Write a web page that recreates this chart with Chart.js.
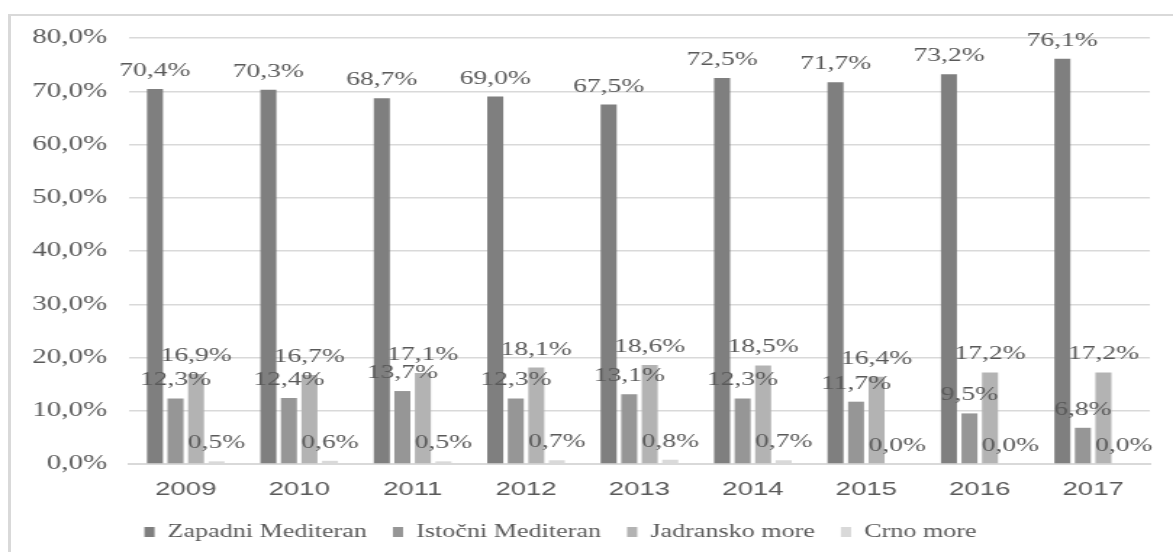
<!DOCTYPE html>
<html>
<head>
<meta charset="utf-8">
<script src="https://cdn.jsdelivr.net/npm/chart.js@4.4.1/dist/chart.umd.min.js"></script>
<style>
  html, body { margin: 0; padding: 0; background: #fff; overflow: hidden; }
  #page { position: absolute; left: 0; top: 0; width: 1173px; height: 552px; }
  #frame {
    position: absolute; left: 8px; top: 14px; width: 1170px; height: 545px;
    border-top: 2px solid #d9d9d9; border-left: 3px solid #d9d9d9;
  }
  /* the reference picture is stretched sideways, so the chart is drawn narrow and widened */
  #wrap {
    position: absolute; left: 0; top: 0; width: 809px; height: 552px;
    transform: scaleX(1.45); transform-origin: 0 0;
  }
</style>
</head>
<body>
<div id="page">
  <div id="frame"></div>
  <div id="wrap"><canvas id="chart"></canvas></div>
</div>
<script>
const years = ["2009", "2010", "2011", "2012", "2013", "2014", "2015", "2016", "2017"];
const zapadni = [70.4, 70.3, 68.7, 69.0, 67.5, 72.5, 71.7, 73.2, 76.1];
const istocni = [12.3, 12.4, 13.7, 12.3, 13.1, 12.3, 11.7, 9.5, 6.8];
const jadransko = [16.9, 16.7, 17.1, 18.1, 18.6, 18.5, 16.4, 17.2, 17.2];
const crno = [0.5, 0.6, 0.5, 0.7, 0.8, 0.7, 0.0, 0.0, 0.0];

const textColor = "#595959";
const serif = "'Liberation Serif', 'Times New Roman', serif";

function pct(v) {
    return v.toFixed(1).replace(".", ",") + "%";
}

// value labels above each bar (no datalabels plugin available)
const barLabels = {
    id: "barLabels",
    afterDatasetsDraw(chart) {
        const ctx = chart.ctx;
        ctx.save();
        ctx.font = "19px " + serif;
        ctx.fillStyle = textColor;
        ctx.textAlign = "center";
        ctx.textBaseline = "middle";
        chart.data.datasets.forEach((ds, i) => {
            chart.getDatasetMeta(i).data.forEach((bar, j) => {
                ctx.fillText(pct(ds.data[j]), bar.x, bar.y - 18);
            });
        });
        ctx.restore();
    }
};

// legend sits a little left of centre in the reference
const legendShift = {
    id: "legendShift",
    afterLayout(chart) {
        chart.legend.left -= 10;
        chart.legend.right -= 10;
    }
};

const chart = new Chart("chart", {
    type: "bar",
    data: {
        labels: years,
        datasets: [
            { label: "Zapadni Mediteran", data: zapadni, backgroundColor: "#7f7f7f" },
            { label: "Istočni Mediteran", data: istocni, backgroundColor: "#969696" },
            { label: "Jadransko more", data: jadransko, backgroundColor: "#b3b3b3" },
            { label: "Crno more", data: crno, backgroundColor: "#d9d9d9" }
        ]
    },
    options: {
        responsive: true,
        maintainAspectRatio: false,
        animation: false,
        categoryPercentage: 0.724,
        barPercentage: 0.78,
        layout: { padding: { top: 38, right: 16, bottom: 1, left: 0 } },
        plugins: {
            legend: {
                position: "bottom",
                labels: {
                    color: textColor,
                    font: { family: serif, size: 18 },
                    boxWidth: 7,
                    boxHeight: 10,
                    padding: 18
                }
            },
            tooltip: { enabled: false }
        },
        scales: {
            x: {
                grid: { display: false, drawTicks: false },
                border: { color: "#d9d9d9", width: 2 },
                ticks: {
                    color: textColor,
                    font: { family: "'Liberation Sans', Arial, sans-serif", size: 19 },
                    padding: 14
                },
                afterFit(scale) { scale.height = 41; }
            },
            y: {
                min: 0,
                max: 80,
                grid: { color: "#d9d9d9", lineWidth: 1.5, drawTicks: false },
                border: { display: false },
                ticks: {
                    stepSize: 10,
                    color: textColor,
                    font: { family: serif, size: 20 },
                    padding: 15,
                    callback: v => pct(v)
                },
                afterFit(scale) { scale.width = 89; }
            }
        }
    },
    plugins: [barLabels, legendShift]
});
</script>
</body>
</html>
